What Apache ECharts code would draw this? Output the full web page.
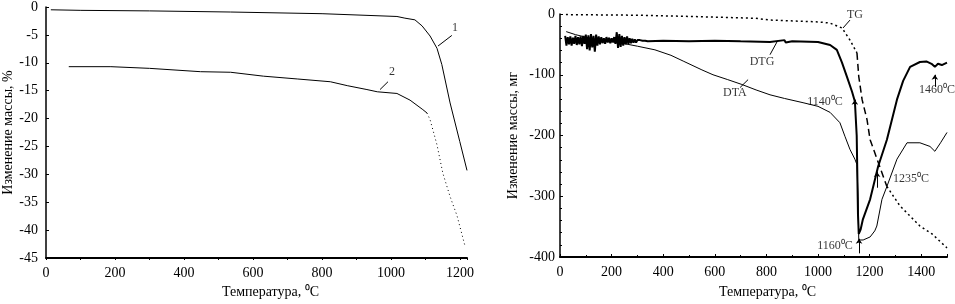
<!DOCTYPE html>
<html>
<head>
<meta charset="utf-8">
<script src="https://cdn.jsdelivr.net/npm/echarts@6/dist/echarts.min.js"></script>
<style>
  html, body { margin: 0; padding: 0; background: #fff; }
  #Charts { width: 955px; height: 304px; }
</style>
</head>
<body>
<div id="Charts"></div>
<script>
// левый график: изменение массы, % (кривые 1 и 2)
const curve1 = [
  [14, -0.5], [101, -0.6], [300, -0.7], [535, -0.9], [800, -1.2], [1017, -1.7],
  [1040, -2.0], [1069, -2.3], [1090, -3.4], [1113, -5.2], [1133, -7.4], [1147, -10.3],
  [1171, -17.2], [1199, -24.1], [1220, -29.3]
]
const curve2 = [
  [66, -10.7], [188, -10.7], [300, -11.0], [448, -11.6], [535, -11.7], [630, -12.4],
  [728, -12.9], [824, -13.4], [873, -14.1], [930, -14.8], [960, -15.2], [1017, -15.5],
  [1055, -16.7], [1092, -18.4], [1104, -19.0]
]
const curve2Dotted = [
  [1104, -19.0], [1113, -20.2], [1133, -24.7], [1150, -29.8], [1171, -34.0],
  [1191, -37.4], [1214, -42.8]
]

// правый график: мг
const tg = [
  [23, -1], [300, -2], [500, -4], [756, -7], [814, -10], [1000, -13], [1047, -15],
  [1093, -23], [1124, -43], [1151, -64]
]
const tgSteep = [
  [1151, -64], [1158, -103], [1171, -141], [1190, -174], [1202, -207], [1229, -239], [1267, -284]
]
const tgTail = [
  [1267, -284], [1318, -316], [1395, -349], [1442, -362], [1500, -385]
]
const dtg = [
  [20, -36], [25, -52], [30, -38], [35, -50], [40, -37], [45, -52], [50, -39], [55, -49],
  [60, -36], [65, -51], [70, -38], [75, -50], [80, -37], [85, -53], [90, -36], [95, -49],
  [100, -34], [105, -58], [110, -35], [115, -60], [120, -33], [125, -55], [130, -36], [135, -62],
  [140, -34], [145, -52], [150, -37], [155, -50], [160, -38], [165, -48], [170, -40], [175, -49],
  [180, -38], [185, -47], [190, -39], [195, -48], [200, -40], [205, -46], [210, -38], [215, -49],
  [220, -30], [225, -56], [230, -33], [235, -54], [240, -36], [245, -52], [250, -38], [255, -50],
  [260, -37], [265, -49], [270, -40], [275, -48], [280, -41], [285, -47], [290, -42], [295, -47],
  [300, -43], [305, -46], [310, -43], [315, -46], [320, -44], [325, -46], [330, -44], [340, -45],
  [400, -44], [500, -45], [600, -44], [700, -45], [814, -46], [870, -43], [875, -47], [900, -45],
  [1000, -46], [1047, -51], [1073, -59], [1093, -80], [1112, -103], [1132, -128], [1143, -144],
  [1150, -200], [1155, -330], [1158, -362], [1165, -355], [1174, -338], [1202, -305], [1233, -251],
  [1267, -207], [1306, -141], [1330, -110], [1357, -87], [1395, -79], [1420, -78], [1440, -82],
  [1453, -87], [1465, -82], [1480, -84], [1500, -80]
]
const dta = [
  [24, -29], [60, -34], [109, -39], [160, -44], [240, -48], [300, -53], [368, -59], [430, -68],
  [480, -78], [550, -92], [593, -100], [650, -108], [705, -116], [760, -125], [814, -133],
  [870, -139], [942, -146], [1000, -152], [1047, -162], [1085, -179], [1105, -202], [1124, -223],
  [1143, -239], [1151, -248], [1155, -300], [1158, -372], [1175, -372], [1202, -367], [1220, -357],
  [1228, -349], [1248, -305], [1267, -284], [1306, -239], [1345, -212], [1395, -212], [1434, -218],
  [1453, -226], [1475, -212], [1500, -195]
]

// подписи и выноски
const leftLabels = [
  {name: '1', value: [1185, -3.8]},
  {name: '2', value: [1003, -11.7]}
]
const leftLeaders = [
  [[1176, -5.1], [1136, -7.0]],
  [[991, -13.4], [968, -14.8]]
]
const rightLabels = [
  {name: 'TG', value: [1143, -2]},
  {name: 'DTG', value: [783, -79]},
  {name: 'DTA', value: [678, -130]},
  {name: '1140⁰C', value: [1027, -144]},
  {name: '1160⁰C', value: [1066, -382]},
  {name: '1235⁰C', value: [1360, -272]},
  {name: '1460⁰C', value: [1461, -125]}
]
const rightLeaders = [
  [[1124, -10], [1097, -23]],
  [[814, -67], [841, -46]],
  [[698, -121], [729, -108]]
]
const rightArrows = [
  [[1143, -169], [1143, -141]],
  [[1159, -394], [1159, -370]],
  [[1229, -286], [1229, -260]],
  [[1453, -120], [1453, -100]]
]

const font = 'Liberation Serif'
const black = '#000'

const axisCommon = {
  type: 'value',
  splitLine: {show: false},
  axisLine: {show: true, onZero: false, lineStyle: {color: black, width: 1.5}},
  axisTick: {show: true, inside: true, length: 3, lineStyle: {color: black}},
  axisLabel: {color: black, fontFamily: font, fontSize: 14, formatter: (v) => String(v)},
  nameLocation: 'middle',
  nameTextStyle: {color: black, fontFamily: font, fontSize: 14}
}

function lineSeries(data, xi, width, type) {
  return {
    type: 'line',
    xAxisIndex: xi,
    yAxisIndex: xi,
    data: data,
    showSymbol: false,
    symbol: 'none',
    lineStyle: {color: black, width: width, type: type || 'solid'},
    silent: true
  }
}

function labelSeries(data, xi) {
  return {
    type: 'scatter',
    xAxisIndex: xi,
    yAxisIndex: xi,
    data: data,
    symbolSize: 1,
    itemStyle: {color: 'rgba(0,0,0,0)'},
    label: {
      show: true,
      position: 'inside',
      formatter: (p) => p.name,
      color: black,
      fontFamily: font,
      fontSize: 12
    },
    silent: true
  }
}

function leaderSeries(data, xi, arrow) {
  return {
    type: 'lines',
    coordinateSystem: 'cartesian2d',
    xAxisIndex: xi,
    yAxisIndex: xi,
    data: data.map(c => ({coords: c})),
    symbol: arrow ? ['none', 'arrow'] : ['none', 'none'],
    symbolSize: 5,
    lineStyle: {color: black, width: 1, opacity: 1},
    silent: true
  }
}

let chart = echarts.init(document.getElementById('Charts'))
let option = {
  animation: false,
  backgroundColor: '#fff',
  grid: [
    {left: 45, right: 488, top: 3, bottom: 43},
    {left: 560, right: 8, top: 14, bottom: 46}
  ],
  xAxis: [
    Object.assign({}, axisCommon, {
      gridIndex: 0, min: 0, max: 1220, interval: 200,
      axisLine: {show: true, onZero: false, lineStyle: {color: black, width: 2}},
      axisTick: {show: true, inside: false, length: 2, lineStyle: {color: black}},
      minorTick: {show: true, splitNumber: 2, length: 2, lineStyle: {color: black}},
      axisLabel: Object.assign({}, axisCommon.axisLabel, {showMaxLabel: false, margin: 8}),
      name: 'Температура, ⁰C', nameGap: 27,
      nameTextStyle: Object.assign({}, axisCommon.nameTextStyle, {padding: [0, 0, 0, 28]})
    }),
    Object.assign({}, axisCommon, {
      gridIndex: 1, min: 0, max: 1500, interval: 200,
      axisLine: {show: true, onZero: false, lineStyle: {color: black, width: 2}},
      minorTick: {show: true, splitNumber: 2, length: 2, lineStyle: {color: black}},
      axisLabel: Object.assign({}, axisCommon.axisLabel, {showMaxLabel: false, margin: 8}),
      name: 'Температура, ⁰C', nameGap: 28,
      nameTextStyle: Object.assign({}, axisCommon.nameTextStyle, {padding: [0, 0, 0, 28]})
    })
  ],
  yAxis: [
    Object.assign({}, axisCommon, {
      gridIndex: 0, min: -45, max: 0, interval: 5,
      axisLabel: Object.assign({}, axisCommon.axisLabel, {margin: 8}),
      name: 'Изменение массы, %', nameGap: 31
    }),
    Object.assign({}, axisCommon, {
      gridIndex: 1, min: -400, max: 0, interval: 100,
      minorTick: {show: true, splitNumber: 5, length: 2, lineStyle: {color: black}},
      axisLabel: Object.assign({}, axisCommon.axisLabel, {margin: 5}),
      name: 'Изменение массы, мг', nameGap: 40
    })
  ],
  series: [
    lineSeries(curve1, 0, 1),
    lineSeries(curve2, 0, 1),
    lineSeries(curve2Dotted, 0, 1, [1, 3]),
    labelSeries(leftLabels, 0),
    leaderSeries(leftLeaders, 0, false),

    lineSeries(tg, 1, 1.5, [2, 3]),
    lineSeries(tgSteep, 1, 1.5, [7, 4]),
    lineSeries(tgTail, 1, 1.5, [2, 3]),
    lineSeries(dtg, 1, 2),
    lineSeries(dta, 1, 1),
    labelSeries(rightLabels, 1),
    leaderSeries(rightLeaders, 1, false),
    leaderSeries(rightArrows, 1, true)
  ]
}
chart.setOption(option)
</script>
</body>
</html>
